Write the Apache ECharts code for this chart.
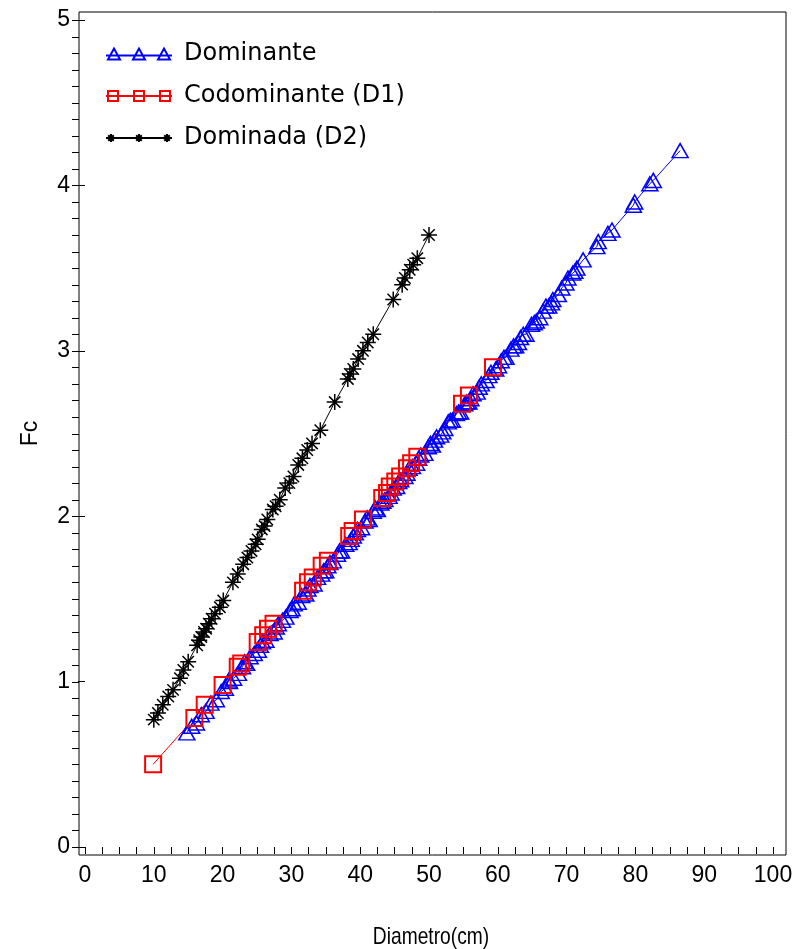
<!DOCTYPE html>
<html>
<head>
<meta charset="utf-8">
<title>Fc x Diametro</title>
<script src="https://cdn.jsdelivr.net/npm/echarts@6/dist/echarts.min.js"></script>
<style>
  html, body { margin: 0; padding: 0; background: #fff; }
  #main { width: 798px; height: 949px; }
</style>
</head>
<body>
<div id="main"></div>
<script>
// nomes das series (legenda)
var seriesNames = ["Dominante", "Codominante (D1)", "Dominada (D2)"];

// [diametro (cm), Fc]
var dominante = [
  [14.8, 0.69], [15.5, 0.73], [16.2, 0.75], [16.9, 0.80], [17.6, 0.82], [18.3, 0.87],
  [19.1, 0.89], [19.8, 0.94], [20.4, 0.96], [20.9, 1.01], [21.0, 1.00], [21.6, 1.02],
  [22.3, 1.05], [22.9, 1.09], [23.2, 1.12], [23.5, 1.11], [24.0, 1.15], [24.6, 1.17],
  [25.2, 1.19], [25.5, 1.22], [25.8, 1.24], [26.3, 1.25], [26.9, 1.29], [27.5, 1.30],
  [27.8, 1.33], [28.1, 1.35], [28.7, 1.37], [29.2, 1.39], [29.8, 1.43], [30.1, 1.44],
  [30.4, 1.47], [31.0, 1.48], [31.5, 1.52], [32.1, 1.53], [32.4, 1.56], [32.7, 1.58],
  [33.3, 1.59], [33.8, 1.63], [34.4, 1.65], [34.7, 1.67], [35.0, 1.67], [35.3, 1.70],
  [35.6, 1.72], [36.1, 1.73], [36.7, 1.77], [37.0, 1.79], [37.3, 1.79], [37.9, 1.83],
  [38.4, 1.84], [38.7, 1.86], [39.0, 1.88], [39.3, 1.90], [39.6, 1.92], [40.2, 1.93],
  [40.7, 1.97], [41.0, 1.99], [41.3, 1.98], [41.9, 2.03], [42.2, 2.05], [42.5, 2.04],
  [43.0, 2.08], [43.3, 2.09], [43.6, 2.10], [44.2, 2.12], [44.5, 2.14], [44.8, 2.17],
  [45.3, 2.18], [45.6, 2.21], [45.9, 2.22], [46.5, 2.24], [46.8, 2.26], [47.1, 2.29],
  [47.6, 2.30], [48.2, 2.32], [48.5, 2.35], [48.8, 2.37], [49.4, 2.38], [49.9, 2.42],
  [50.2, 2.44], [50.5, 2.43], [50.8, 2.46], [51.1, 2.48], [51.7, 2.49], [52.0, 2.51],
  [52.3, 2.53], [52.8, 2.57], [53.1, 2.58], [53.4, 2.58], [54.0, 2.62], [54.3, 2.63],
  [54.6, 2.63], [55.2, 2.68], [55.5, 2.69], [55.8, 2.69], [56.1, 2.71], [56.4, 2.74],
  [57.0, 2.75], [57.3, 2.78], [57.6, 2.80], [58.3, 2.82], [58.7, 2.85], [59.0, 2.87],
  [59.7, 2.89], [60.1, 2.91], [60.5, 2.94], [60.9, 2.96], [61.2, 2.96], [61.9, 3.01],
  [62.3, 3.03], [62.6, 3.03], [63.0, 3.05], [63.3, 3.08], [63.7, 3.10], [64.1, 3.10],
  [64.9, 3.16], [65.3, 3.17], [65.6, 3.18], [66.1, 3.20], [66.6, 3.24], [67.0, 3.27],
  [67.4, 3.27], [67.8, 3.29], [68.0, 3.31], [68.8, 3.34], [69.3, 3.38], [69.9, 3.41],
  [70.2, 3.44], [70.9, 3.47], [71.2, 3.48], [71.5, 3.50], [72.4, 3.55], [74.4, 3.63],
  [74.6, 3.66], [76.0, 3.71], [76.6, 3.73], [79.7, 3.88], [79.9, 3.90], [82.1, 4.01],
  [82.6, 4.03], [86.5, 4.21]
];

var codominante = [
  [9.9, 0.50], [15.9, 0.78], [17.4, 0.86], [20.0, 0.98], [22.2, 1.09], [22.7, 1.11],
  [25.1, 1.24], [25.9, 1.28], [26.6, 1.32], [27.4, 1.35], [31.7, 1.55], [32.4, 1.60],
  [33.1, 1.63], [34.4, 1.70], [35.3, 1.73], [38.4, 1.88], [38.9, 1.91], [40.4, 1.98],
  [43.2, 2.11], [43.9, 2.14], [44.3, 2.18], [45.1, 2.21], [45.8, 2.24], [46.8, 2.29],
  [47.4, 2.32], [48.3, 2.36], [54.8, 2.68], [55.8, 2.73], [59.3, 2.90]
];

var dominada = [
  [10.0, 0.77], [10.6, 0.81], [11.3, 0.86], [12.1, 0.91], [12.8, 0.95], [13.8, 1.02],
  [14.3, 1.07], [15.0, 1.12], [16.3, 1.22], [16.6, 1.25], [16.9, 1.27], [17.3, 1.30],
  [17.6, 1.32], [18.0, 1.35], [18.4, 1.38], [18.9, 1.41], [19.6, 1.45], [20.1, 1.49],
  [21.5, 1.60], [22.2, 1.65], [23.0, 1.71], [23.6, 1.75], [24.2, 1.79], [24.8, 1.83],
  [25.1, 1.86], [25.7, 1.92], [26.1, 1.94], [26.5, 1.98], [27.3, 2.04], [27.7, 2.06],
  [28.3, 2.10], [29.1, 2.17], [29.7, 2.20], [30.3, 2.24], [31.0, 2.31], [31.6, 2.35],
  [32.3, 2.40], [33.0, 2.44], [34.2, 2.52], [36.3, 2.69], [38.2, 2.83], [38.5, 2.86],
  [39.0, 2.89], [39.7, 2.95], [40.4, 3.00], [41.1, 3.05], [41.9, 3.10], [44.8, 3.31],
  [46.1, 3.40], [46.5, 3.44], [47.2, 3.49], [47.7, 3.52], [48.3, 3.56], [50.0, 3.70]
];

// escalas dos eixos
var xTicks = { min: 0, max: 100, interval: 10 };
var yTicks = { min: 0, max: 5, interval: 1 };
var xTitle = "Diametro(cm)";
var yTitle = "Fc";

!(function(echarts) {
  var labelFont = "'Liberation Sans', Arial, sans-serif";
  var legendFont = "'DejaVu Sans', sans-serif";

  // area dos dados (px)
  var plot = { left: 85, right: 25, top: 20, bottom: 102 };
  var frameLeft = 79;

  var star = "path://M0,-8L0,8M-8,0L8,0M-5.7,-5.7L5.7,5.7M-5.7,5.7L5.7,-5.7";

  // icones da legenda: linha com tres simbolos
  var iconTri = "path://M0,8L66,8M2,12L8,1L14,12ZM27,12L33,1L39,12ZM52,12L58,1L64,12Z";
  var iconRect = "path://M0,7L66,7M2,2L12,2L12,12L2,12ZM28,2L38,2L38,12L28,12ZM54,2L64,2L64,12L54,12Z";
  var iconStar = "path://M0,7L66,7M5,3L5,11M1,7L9,7M2.2,4.2L7.8,9.8M2.2,9.8L7.8,4.2" +
    "M33,3L33,11M29,7L37,7M30.2,4.2L35.8,9.8M30.2,9.8L35.8,4.2" +
    "M61,3L61,11M57,7L65,7M58.2,4.2L63.8,9.8M58.2,9.8L63.8,4.2";

  var byX = function(a, b) { return a[0] - b[0]; };

  var chart = echarts.init(document.getElementById("main"), null, { renderer: "canvas" });

  var hiddenAxis = { type: "value", show: false, min: 0, max: 1 };

  var titleGraphic = {
    type: "text",
    x: 431,
    y: 937,
    scaleX: 0.8,
    silent: true,
    style: {
      text: xTitle,
      font: "24px " + labelFont,
      fill: "#000",
      align: "center",
      verticalAlign: "middle"
    }
  };

  var option = {
    animation: false,
    backgroundColor: "#fff",
    grid: [
      // moldura
      {
        left: frameLeft, right: 12, top: 12, bottom: 94,
        show: true, borderColor: "#000", borderWidth: 1,
        backgroundColor: "transparent", outerBoundsMode: "none"
      },
      {
        left: plot.left, right: plot.right, top: plot.top, bottom: plot.bottom,
        outerBoundsMode: "none"
      }
    ],
    graphic: [titleGraphic],
    legend: {
      orient: "vertical",
      left: 100,
      top: 37,
      itemWidth: 66,
      itemHeight: 14,
      itemGap: 18,
      symbolKeepAspect: true,
      textStyle: { fontFamily: legendFont, fontSize: 24, color: "#000", padding: [0, 0, 0, 7] },
      data: [
        { name: seriesNames[0], icon: iconTri },
        { name: seriesNames[1], icon: iconRect },
        { name: seriesNames[2], icon: iconStar }
      ]
    },
    xAxis: [
      Object.assign({ gridIndex: 0 }, hiddenAxis),
      {
        gridIndex: 1,
        type: "value",
        min: xTicks.min,
        max: xTicks.max,
        interval: xTicks.interval,
        offset: 8,
        splitLine: { show: false },
        axisLine: { show: false },
        axisTick: { show: true, length: 7, lineStyle: { color: "#000" } },
        minorTick: { show: true, splitNumber: 4, length: 7, lineStyle: { color: "#000" } },
        axisLabel: { margin: 9, fontFamily: labelFont, fontSize: 23, color: "#000" }
      }
    ],
    yAxis: [
      Object.assign({ gridIndex: 0 }, hiddenAxis),
      {
        gridIndex: 1,
        type: "value",
        min: yTicks.min,
        max: yTicks.max,
        interval: yTicks.interval,
        offset: 6,
        name: yTitle,
        nameLocation: "middle",
        nameGap: 37,
        nameRotate: 90,
        nameTextStyle: { fontFamily: labelFont, fontSize: 23, color: "#000" },
        splitLine: { show: false },
        axisLine: { show: false },
        axisTick: { show: true, length: 7, lineStyle: { color: "#000" } },
        axisLabel: { margin: 9, fontFamily: labelFont, fontSize: 23, color: "#000" }
      }
    ],
    series: [
      {
        name: seriesNames[0],
        type: "line",
        xAxisIndex: 1,
        yAxisIndex: 1,
        clip: false,
        data: dominante.slice().sort(byX),
        symbol: "triangle",
        symbolSize: [16, 14],
        lineStyle: { color: "#0000ff", width: 1 },
        itemStyle: { color: "rgba(0,0,0,0)", borderColor: "#0000ff", borderWidth: 1.5 }
      },
      {
        name: seriesNames[1],
        type: "line",
        xAxisIndex: 1,
        yAxisIndex: 1,
        clip: false,
        data: codominante,
        symbol: "rect",
        symbolSize: 16,
        lineStyle: { color: "#ff0000", width: 1 },
        itemStyle: { color: "rgba(0,0,0,0)", borderColor: "#ff0000", borderWidth: 2 }
      },
      {
        name: seriesNames[2],
        type: "line",
        xAxisIndex: 1,
        yAxisIndex: 1,
        clip: false,
        data: dominada,
        symbol: star,
        symbolSize: 16,
        lineStyle: { color: "#000", width: 1 },
        itemStyle: { color: "rgba(0,0,0,0)", borderColor: "#000", borderWidth: 1.5 }
      }
    ]
  };

  chart.setOption(option);

  // marcas do eixo y a cada 0.1
  var plotHeight = 949 - plot.top - plot.bottom;
  var tickGraphics = [titleGraphic];
  for (var i = 0; i <= 50; i++) {
    var v = i / 10;
    var py = chart.convertToPixel({ yAxisIndex: 1 }, v);
    if (typeof py !== "number" || !isFinite(py)) {
      py = plot.top + (yTicks.max - v) / (yTicks.max - yTicks.min) * plotHeight;
    }
    py = Math.round(py) + 0.5;
    tickGraphics.push({
      type: "line",
      silent: true,
      z: 100,
      shape: { x1: frameLeft - 7, y1: py, x2: frameLeft, y2: py },
      style: { stroke: "#000", lineWidth: 1 }
    });
  }
  chart.setOption({ graphic: tickGraphics }, { replaceMerge: ["graphic"] });
})(window.echarts);
</script>
</body>
</html>
